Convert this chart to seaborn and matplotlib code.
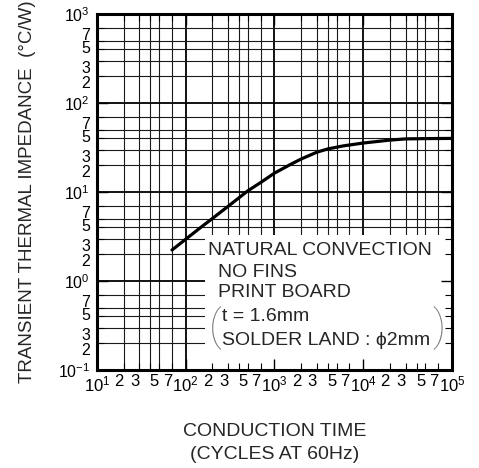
import matplotlib
matplotlib.use("Agg")
import matplotlib.pyplot as plt
import seaborn as sns
import pandas as pd
from matplotlib.ticker import FixedLocator, FixedFormatter
from matplotlib.patches import Rectangle

# curve (cycles at 60Hz -> degC/W)
cycles = [70, 100, 150, 190, 300, 500, 700, 1000, 1500, 2000, 3000, 4000, 6000, 10000, 20000, 30000, 50000, 100000]
impedance = [2.23, 2.95, 4.05, 4.85, 6.9, 10.3, 12.8, 16.3, 20.3, 23.5, 28.0, 30.5, 33.0, 35.5, 38.3, 39.5, 39.8, 40.0]

x_decades = [1e1, 1e2, 1e3, 1e4, 1e5]
x_decade_labels = [r"$10^{1}$", r"$10^{2}$", r"$10^{3}$", r"$10^{4}$", r"$10^{5}$"]
y_decades = [1e-1, 1e0, 1e1, 1e2, 1e3]
y_decade_labels = [r"$10^{-1}$", r"$10^{0}$", r"$10^{1}$", r"$10^{2}$", r"$10^{3}$"]
minor_steps = [2, 3, 4, 5, 7]
minor_step_labels = ["2", "3", "", "5", "7"]

note_lines = ["NATURAL CONVECTION", "NO FINS", "PRINT BOARD", "t = 1.6mm", "SOLDER LAND : \u03d52mm"]

df = pd.DataFrame({"cycles": cycles, "impedance": impedance})

sns.set_theme(style="white")
plt.rcParams["font.family"] = ["Liberation Sans", "DejaVu Sans"]
plt.rcParams["mathtext.fontset"] = "custom"
plt.rcParams["mathtext.rm"] = "Liberation Sans"
plt.rcParams["mathtext.it"] = "Liberation Sans"
plt.rcParams["mathtext.default"] = "regular"

fig = plt.figure(figsize=(4.79, 4.68), dpi=100)
ax = fig.add_axes([0.2025, 0.2094, 0.7411, 0.7607])

sns.lineplot(data=df, x="cycles", y="impedance", color="black", linewidth=2.3, ax=ax, zorder=3)

ax.set_xscale("log")
ax.set_yscale("log")
ax.set_xlim(1e1, 1e5)
ax.set_ylim(1e-1, 1e3)

x_minor = [m * d for d in x_decades[:-1] for m in minor_steps]
x_minor_labels = [l for d in x_decades[:-1] for l in minor_step_labels]
y_minor = [m * d for d in y_decades[:-1] for m in minor_steps]
y_minor_labels = [l for d in y_decades[:-1] for l in minor_step_labels]

ax.xaxis.set_major_locator(FixedLocator(x_decades))
ax.xaxis.set_major_formatter(FixedFormatter(x_decade_labels))
ax.xaxis.set_minor_locator(FixedLocator(x_minor))
ax.xaxis.set_minor_formatter(FixedFormatter(x_minor_labels))
ax.yaxis.set_major_locator(FixedLocator(y_decades))
ax.yaxis.set_major_formatter(FixedFormatter(y_decade_labels))
ax.yaxis.set_minor_locator(FixedLocator(y_minor))
ax.yaxis.set_minor_formatter(FixedFormatter(y_minor_labels))

ax.set_axisbelow(True)
ax.grid(which="major", color="black", linewidth=1.3)
ax.grid(which="minor", color="#1a1a1a", linewidth=0.8)
ax.tick_params(which="both", length=0, colors="black")
ax.tick_params(axis="x", which="both", pad=3, labelsize=12)
ax.tick_params(axis="y", which="both", pad=5, labelsize=11.5)
plt.setp(ax.get_xminorticklabels(), ha="right")
plt.setp(ax.get_yminorticklabels(), va="top")

for s in ax.spines.values():
    s.set_color("black")
    s.set_linewidth(2.2)
    s.set_zorder(4)

# white note area that masks the grid in the lower right
ax.add_patch(Rectangle((165, 0.1), 1e5 - 165, 3.3 - 0.1, facecolor="white", edgecolor="none", zorder=1))

# overlay axes only for the inward ticks on the frame
ax2 = fig.add_axes(ax.get_position(), sharex=ax, sharey=ax)
ax2.patch.set_visible(False)
ax2.grid(False)
for s in ax2.spines.values():
    s.set_visible(False)
ax2.tick_params(which="both", direction="in", bottom=True, top=True, left=True, right=True,
                labelbottom=False, labelleft=False, colors="black")
ax2.tick_params(which="major", length=8, width=1.0)
ax2.tick_params(which="minor", length=5, width=0.8)

note_x = [0.313, 0.341, 0.341, 0.352, 0.352]
note_y = [0.337, 0.275, 0.219, 0.149, 0.084]
for t, xx, yy in zip(note_lines, note_x, note_y):
    ax.text(xx, yy, t, transform=ax.transAxes, ha="left", va="center", fontsize=14, zorder=5)
for px, ch in [(0.332, "("), (0.962, ")")]:
    ax.text(px, 0.117, ch, transform=ax.transAxes, ha="center", va="center", fontsize=31,
            family=["Roboto", "Liberation Sans"], fontweight="light", color="#808080", zorder=5)

ax.set_xlabel("CONDUCTION TIME\n(CYCLES AT 60Hz)", fontsize=14, linespacing=1.45)
ax.set_ylabel("TRANSIENT THERMAL IMPEDANCE  (\u00b0C/W)", fontsize=13.5)
ax.xaxis.set_label_coords(0.5, -0.148)
ax.yaxis.set_label_coords(-0.172, 0.5)

fig.savefig("out.png", dpi=100)
